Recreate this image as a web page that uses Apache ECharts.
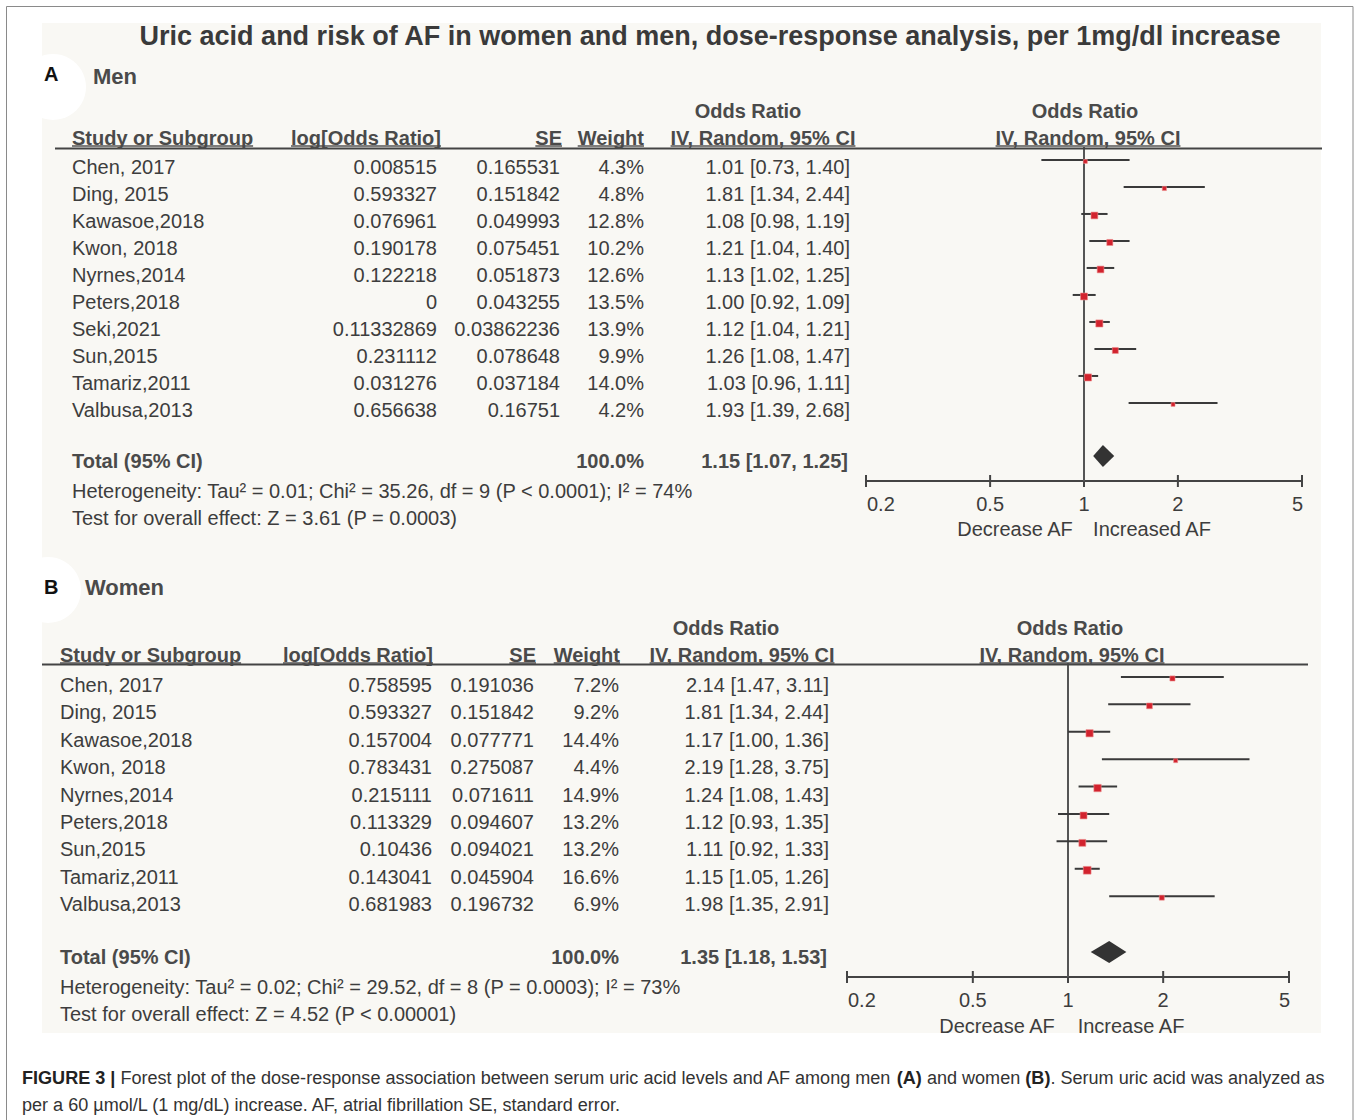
<!DOCTYPE html>
<html><head><meta charset="utf-8">
<script src="https://cdn.jsdelivr.net/npm/echarts@6/dist/echarts.min.js"></script>
<style>html,body{margin:0;padding:0;background:#fff}#c{width:1357px;height:1120px}</style>
</head><body><div id="c"></div>
<script>
// ---------- data ----------
const tickValues = [0.2, 0.5, 1, 2, 5];

const menStudies = ['Chen, 2017','Ding, 2015','Kawasoe,2018','Kwon, 2018','Nyrnes,2014','Peters,2018','Seki,2021','Sun,2015','Tamariz,2011','Valbusa,2013'];
const menLogOR  = ['0.008515','0.593327','0.076961','0.190178','0.122218','0','0.11332869','0.231112','0.031276','0.656638'];
const menSE     = ['0.165531','0.151842','0.049993','0.075451','0.051873','0.043255','0.03862236','0.078648','0.037184','0.16751'];
const menWeight = [4.3, 4.8, 12.8, 10.2, 12.6, 13.5, 13.9, 9.9, 14.0, 4.2];
const menOR     = [1.01, 1.81, 1.08, 1.21, 1.13, 1.00, 1.12, 1.26, 1.03, 1.93];
const menLo     = [0.73, 1.34, 0.98, 1.04, 1.02, 0.92, 1.04, 1.08, 0.96, 1.39];
const menHi     = [1.40, 2.44, 1.19, 1.40, 1.25, 1.09, 1.21, 1.47, 1.11, 2.68];
const menTotal  = [1.15, 1.07, 1.25];
const menHet    = 'Heterogeneity: Tau\u00b2 = 0.01; Chi\u00b2 = 35.26, df = 9 (P < 0.0001); I\u00b2 = 74%';
const menTest   = 'Test for overall effect: Z = 3.61 (P = 0.0003)';

const womenStudies = ['Chen, 2017','Ding, 2015','Kawasoe,2018','Kwon, 2018','Nyrnes,2014','Peters,2018','Sun,2015','Tamariz,2011','Valbusa,2013'];
const womenLogOR  = ['0.758595','0.593327','0.157004','0.783431','0.215111','0.113329','0.10436','0.143041','0.681983'];
const womenSE     = ['0.191036','0.151842','0.077771','0.275087','0.071611','0.094607','0.094021','0.045904','0.196732'];
const womenWeight = [7.2, 9.2, 14.4, 4.4, 14.9, 13.2, 13.2, 16.6, 6.9];
const womenOR     = [2.14, 1.81, 1.17, 2.19, 1.24, 1.12, 1.11, 1.15, 1.98];
const womenLo     = [1.47, 1.34, 1.00, 1.28, 1.08, 0.93, 0.92, 1.05, 1.35];
const womenHi     = [3.11, 2.44, 1.36, 3.75, 1.43, 1.35, 1.33, 1.26, 2.91];
const womenTotal  = [1.35, 1.18, 1.53];
const womenHet    = 'Heterogeneity: Tau\u00b2 = 0.02; Chi\u00b2 = 29.52, df = 8 (P = 0.0003); I\u00b2 = 73%';
const womenTest   = 'Test for overall effect: Z = 4.52 (P < 0.00001)';

const titleText = 'Uric acid and risk of AF in women and men, dose-response analysis, per 1mg/dl increase';
const capBold1 = 'FIGURE 3 |';
const capNorm1 = ' Forest plot of the dose-response association between serum uric acid levels and AF among men ';
const capBoldA = '(A)';
const capNorm2 = ' and women ';
const capBoldB = '(B)';
const capNorm3 = '. Serum uric acid was analyzed as';
const captionLine2 = 'per a 60 \u00b5mol/L (1 mg/dL) increase. AF, atrial fibrillation SE, standard error.';

// ---------- styling / layout ----------
const FONT = "'Liberation Sans', Arial, Helvetica, sans-serif";
const TXT = '#3d3d3d', HEAD = '#4a4a4a';
const lg = Math.log10;
const font = (s, b) => (b ? 'bold ' : '') + s + 'px ' + FONT;
const mctx = document.createElement('canvas').getContext('2d');
function tw(t, f) { mctx.font = f; return mctx.measureText(t).width; }

function txtEl(text, x, y, o) {
  o = o || {};
  const a = o.align || 'left';
  return { type: 'text', silent: true,
    style: { text: text, x: x, y: y, fill: o.fill || TXT, font: o.font || font(20),
      align: a, textAlign: a, verticalAlign: 'middle', textVerticalAlign: 'middle', rich: o.rich } };
}
function T(text, x, y, o) { const e = txtEl(text, x, y, o); e.z = 50; return e; }
function Ln(x1, y1, x2, y2, w, c) {
  return { type: 'line', silent: true, z: 40, shape: { x1, y1, x2, y2 }, style: { stroke: c || '#444', lineWidth: w || 2 } };
}
function ul(text, x, y, align, f) {
  const w = tw(text, f);
  const x0 = align === 'left' ? x : align === 'right' ? x - w : x - w / 2;
  return Ln(x0, y, x0 + w, y, 1.5, '#555');
}

const panels = [
  { d: { studies: menStudies, logOR: menLogOR, se: menSE, weight: menWeight, or: menOR, lo: menLo, hi: menHi, total: menTotal, het: menHet, test: menTest },
    L: { nameX: 72, logX: 437, seX: 560, wX: 644, orX: 850, dy: 7, tdy: 5, totalIdx: 10.96,
         hy: 138, logHX: 291, seHX: 562, wHX: 644, ivX: 763, orHX: 748, ivX2: 1088, orHX2: 1085,
         ruleX1: 55, ruleX2: 1322, ruleY: 148.5, hetY: 491, testY: 518,
         dec: 'Decrease AF', inc: 'Increased AF', decX: 1015, incX: 1152, decY: 529,
         grid: { left: 866, top: 147, width: 436, height: 334 }, yMin: -0.48, yMax: 11.89 } },
  { d: { studies: womenStudies, logOR: womenLogOR, se: womenSE, weight: womenWeight, or: womenOR, lo: womenLo, hi: womenHi, total: womenTotal, het: womenHet, test: womenTest },
    L: { nameX: 60, logX: 432, seX: 534, wX: 619, orX: 829, dy: 8, tdy: 5, totalIdx: 10.04,
         hy: 655, logHX: 283, seHX: 536, wHX: 620, ivX: 742, orHX: 726, ivX2: 1072, orHX2: 1070,
         ruleX1: 42, ruleX2: 1308, ruleY: 664.5, hetY: 987, testY: 1014,
         dec: 'Decrease AF', inc: 'Increase AF', decX: 997, incX: 1131, decY: 1026,
         grid: { left: 847, top: 663, width: 442, height: 314 }, yMin: -0.51, yMax: 10.95 } }
];

const fmtCI = (o, l, h) => o.toFixed(2) + ' [' + l.toFixed(2) + ', ' + h.toFixed(2) + ']';
const AXC = '#444';

// ---------- axes & series ----------
const grids = [], xAxes = [], yAxes = [], series = [];
panels.forEach((p, gi) => {
  const L = p.L, d = p.d;
  grids.push(Object.assign({ containLabel: false }, L.grid));
  xAxes.push({ type: 'value', gridIndex: gi, min: lg(0.2), max: lg(5), show: false, splitLine: { show: false } });
  yAxes.push({ type: 'value', gridIndex: gi, inverse: true, min: L.yMin, max: L.yMax, show: false, splitLine: { show: false } });

  // axis ticks + labels (log scale shown through the value axis in log10 space)
  series.push({
    type: 'custom', xAxisIndex: gi, yAxisIndex: gi, clip: false, silent: true, z: 3,
    data: tickValues.map((v, k) => [lg(v), L.yMax, k]),
    encode: { x: 0, y: 1 },
    renderItem: (params, api) => {
      const k = params.dataIndex;
      const pt = api.coord([api.value(0), api.value(1)]);
      const a = k === 0 ? 'left' : (k === tickValues.length - 1 ? 'right' : 'center');
      const lx = k === 0 ? pt[0] + 1 : (k === tickValues.length - 1 ? pt[0] + 1 : pt[0]);
      return { type: 'group', children: [
        { type: 'line', shape: { x1: pt[0], y1: pt[1] - 6, x2: pt[0], y2: pt[1] + 6 }, style: { stroke: AXC, lineWidth: 2 } },
        txtEl(String(tickValues[k]), lx, pt[1] + 23, { align: a })
      ] };
    }
  });

  // axis line, reference line at OR = 1, total diamond, totals text
  series.push({
    type: 'custom', xAxisIndex: gi, yAxisIndex: gi, clip: false, silent: true, z: 4,
    data: [[lg(d.total[1]), lg(d.total[2]), lg(d.total[0]), L.totalIdx]],
    encode: { x: [0, 1, 2], y: 3 },
    renderItem: (params, api) => {
      const y = api.value(3);
      const a = api.coord([api.value(0), y]), b = api.coord([api.value(1), y]), m = api.coord([api.value(2), y]);
      const t = api.coord([lg(1), L.yMin]), bt = api.coord([lg(1), L.yMax]);
      const ax0 = api.coord([lg(tickValues[0]), L.yMax]), ax1 = api.coord([lg(tickValues[tickValues.length - 1]), L.yMax]);
      const ty = m[1] + L.tdy;
      return { type: 'group', children: [
        { type: 'line', shape: { x1: ax0[0], y1: ax0[1], x2: ax1[0], y2: ax1[1] }, style: { stroke: AXC, lineWidth: 2 } },
        { type: 'line', shape: { x1: t[0], y1: t[1], x2: bt[0], y2: bt[1] }, style: { stroke: '#555', lineWidth: 2 } },
        { type: 'polygon', shape: { points: [[a[0], a[1]], [m[0], m[1] - 11], [b[0], b[1]], [m[0], m[1] + 11]] }, style: { fill: '#333' } },
        txtEl('Total (95% CI)', L.nameX, ty, { font: font(20, true), fill: HEAD }),
        txtEl('100.0%', L.wX, ty, { align: 'right', font: font(20, true), fill: HEAD }),
        txtEl(fmtCI(d.total[0], d.total[1], d.total[2]), L.orX - 2, ty, { align: 'right', font: font(20, true), fill: HEAD })
      ] };
    }
  });

  // study rows
  series.push({
    type: 'custom', xAxisIndex: gi, yAxisIndex: gi, clip: false, silent: true, z: 5,
    data: d.studies.map((s, i) => [lg(d.lo[i]), lg(d.hi[i]), lg(d.or[i]), i, d.weight[i]]),
    encode: { x: [0, 1, 2], y: 3 },
    renderItem: (params, api) => {
      const i = params.dataIndex;
      const y = api.value(3);
      const a = api.coord([api.value(0), y]), b = api.coord([api.value(1), y]), m = api.coord([api.value(2), y]);
      const s = 1.9 * Math.sqrt(api.value(4));
      const ty = m[1] + L.dy;
      return { type: 'group', children: [
        { type: 'line', shape: { x1: a[0], y1: a[1], x2: b[0], y2: b[1] }, style: { stroke: '#3a3a3a', lineWidth: 2 } },
        { type: 'rect', shape: { x: m[0] - s / 2, y: m[1] + 1.5 - s / 2, width: s, height: s }, style: { fill: '#d2232e', stroke: '#ec8c8c', lineWidth: 0.6 } },
        txtEl(d.studies[i], L.nameX, ty),
        txtEl(d.logOR[i], L.logX, ty, { align: 'right' }),
        txtEl(d.se[i], L.seX, ty, { align: 'right' }),
        txtEl(d.weight[i].toFixed(1) + '%', L.wX, ty, { align: 'right' }),
        txtEl(fmtCI(d.or[i], d.lo[i], d.hi[i]), L.orX, ty, { align: 'right' })
      ] };
    }
  });
});

// ---------- static graphics ----------
const g = [];
g.push({ type: 'rect', silent: true, z: 0, shape: { x: 6.5, y: 6.5, width: 1346.5, height: 1140 }, style: { fill: '#fff', stroke: '#8a8a8a', lineWidth: 1 } });
g.push({ type: 'rect', silent: true, z: 1, shape: { x: 42, y: 23, width: 1279, height: 1010 }, style: { fill: '#f9f8f4' } });
g.push({ type: 'circle', silent: true, z: 2, shape: { cx: 53, cy: 87, r: 33 }, style: { fill: '#fff' } });
g.push({ type: 'circle', silent: true, z: 2, shape: { cx: 48, cy: 590, r: 33 }, style: { fill: '#fff' } });
g.push(T(titleText, 710, 36, { align: 'center', font: font(27, true), fill: '#3a3a3a' }));
g.push(T('A', 44, 74, { font: font(20, true), fill: '#111' }));
g.push(T('Men', 93, 76, { font: font(22, true), fill: HEAD }));
g.push(T('B', 44, 587, { font: font(20, true), fill: '#111' }));
g.push(T('Women', 85, 587, { font: font(22, true), fill: HEAD }));

panels.forEach(p => {
  const L = p.L, d = p.d;
  const hf = font(20, true);
  [['Study or Subgroup', L.nameX, 'left'], ['log[Odds Ratio]', L.logHX, 'left'], ['SE', L.seHX, 'right'],
   ['Weight', L.wHX, 'right'], ['IV, Random, 95% CI', L.ivX, 'center'], ['IV, Random, 95% CI', L.ivX2, 'center']]
    .forEach(([t, x, a]) => { g.push(T(t, x, L.hy, { align: a, font: hf, fill: HEAD })); g.push(ul(t, x, L.hy + 8, a, hf)); });
  g.push(T('Odds Ratio', L.orHX, L.hy - 27, { align: 'center', font: hf, fill: HEAD }));
  g.push(T('Odds Ratio', L.orHX2, L.hy - 27, { align: 'center', font: hf, fill: HEAD }));
  g.push(Ln(L.ruleX1, L.ruleY, L.ruleX2, L.ruleY, 2, '#444'));
  g.push(T(d.het, L.nameX, L.hetY));
  g.push(T(d.test, L.nameX, L.testY));
  g.push(T(L.dec, L.decX, L.decY, { align: 'center' }));
  g.push(T(L.inc, L.incX, L.decY, { align: 'center' }));
});

// caption: condensed look via horizontal scaling to the reference line width
const CF = font(19), CFB = font(19, true);
const capW = tw(capBold1, CFB) + tw(capNorm1, CF) + tw(capBoldA, CFB) + tw(capNorm2, CF) + tw(capBoldB, CFB) + tw(capNorm3, CF);
const capScale = Math.min(1, 1303 / capW);
function capEl(text, y, rich) {
  return { type: 'text', silent: true, z: 50, x: 22, y: y, scaleX: capScale, scaleY: 1,
    style: { text: text, x: 0, y: 0, fill: '#333', font: CF, align: 'left', textAlign: 'left',
      verticalAlign: 'middle', textVerticalAlign: 'middle', rich: rich } };
}
g.push(capEl('{b|' + capBold1 + '}' + capNorm1 + '{b|' + capBoldA + '}' + capNorm2 + '{b|' + capBoldB + '}' + capNorm3, 1077,
  { b: { font: CFB, fill: '#222' } }));
g.push(capEl(captionLine2, 1104));

const chart = echarts.init(document.getElementById('c'), null, { renderer: 'svg', width: 1357, height: 1120 });
chart.setOption({
  animation: false,
  backgroundColor: '#fff',
  grid: grids,
  xAxis: xAxes,
  yAxis: yAxes,
  series: series,
  graphic: { elements: g }
});
</script>
</body></html>
